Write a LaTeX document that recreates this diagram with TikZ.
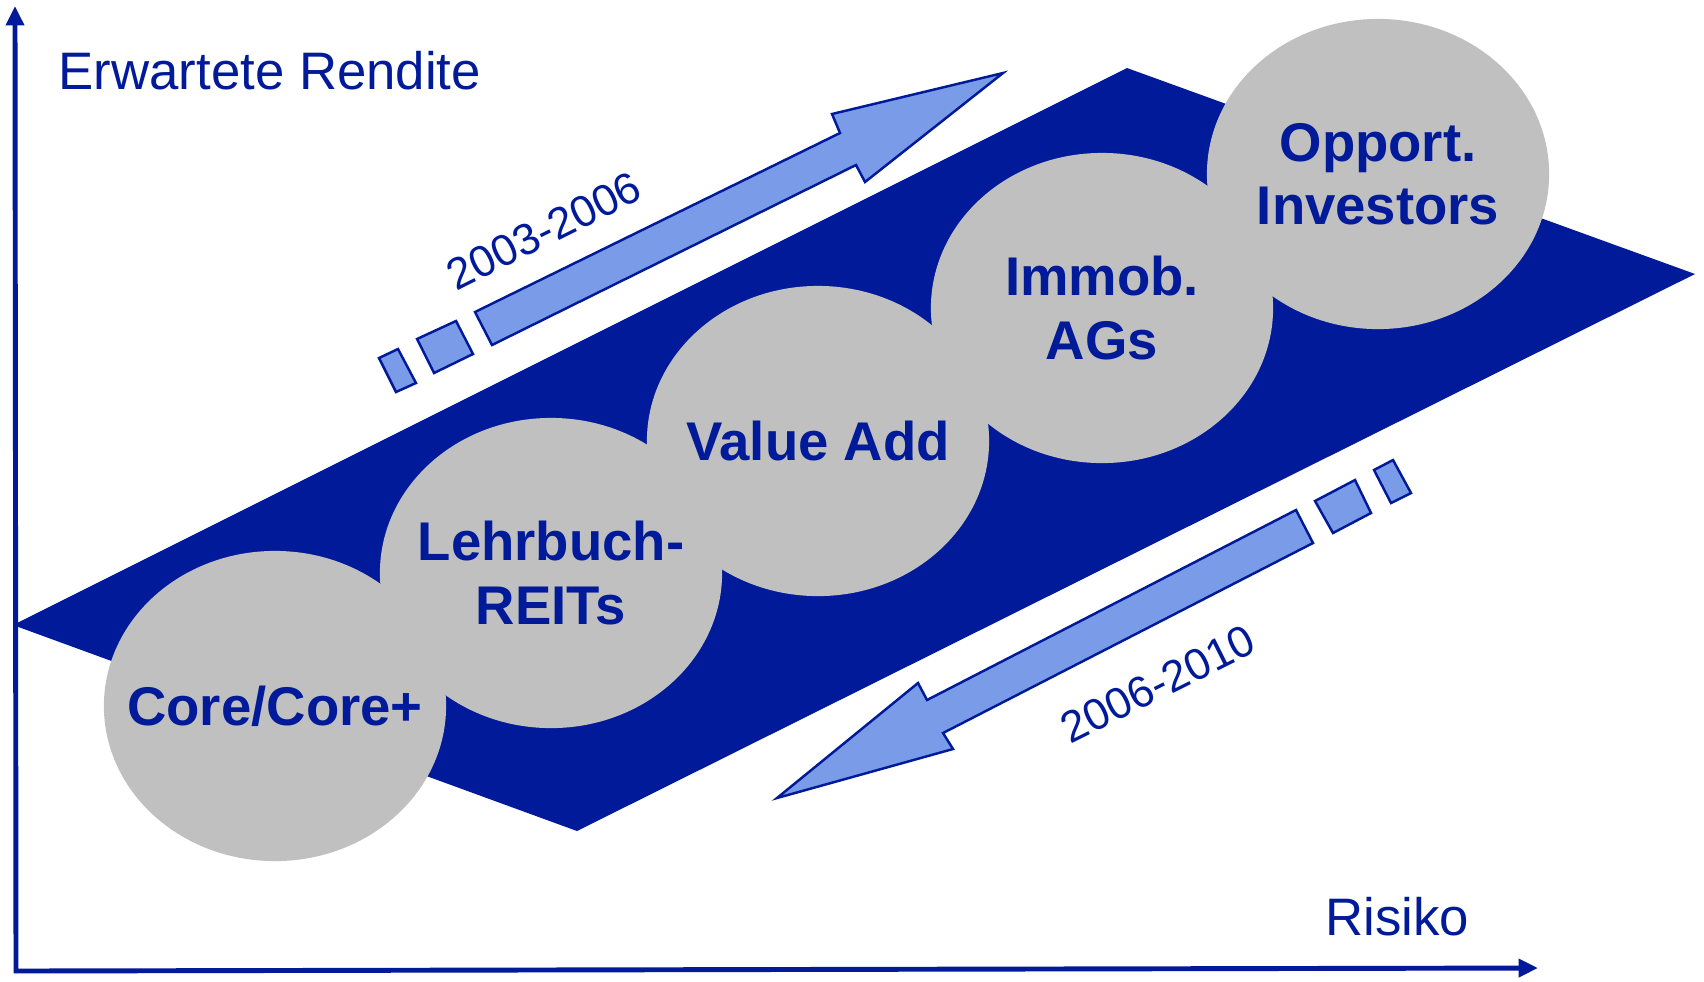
\documentclass[tikz,border=0pt]{standalone}
\usepackage{fontspec}
\setmainfont{Liberation Sans}
\usepackage{tikz}
\usetikzlibrary{calc}
\usetikzlibrary{arrows.meta}

\definecolor{planeblue}{RGB}{0,26,153}
\definecolor{trendblue}{RGB}{122,156,232}
\definecolor{bubblegray}{RGB}{192,192,192}

\tikzset{
  bubble/.style = {fill = bubblegray},
  bubbletext/.style = {inner sep = 0pt, align = center, text = planeblue, font = \fontsize{15.5}{18}\selectfont\bfseries},
  axislabel/.style = {text = planeblue, inner sep = 0pt, font = \fontsize{15}{18}\selectfont},
  yearlabel/.style = {text = planeblue, inner sep = 0pt, font = \fontsize{12.5}{15}\selectfont},
  trend/.style = {draw = planeblue, line width = 0.7pt, fill = trendblue, line join = miter}
}

\begin{document}
\begin{tikzpicture}[x = 0.01cm, y = -0.01cm]
    \useasboundingbox (0,0) rectangle (1704,981);

    % axes
    \coordinate (ytop) at (15,6);
    \coordinate (origin) at (16,971);
    \coordinate (xend) at (1538,968);
    \draw[line width = 1.4pt, planeblue, {Triangle[length=5.5pt, width=5pt]}-{Triangle[length=5.5pt, width=5pt]}] (ytop) -- (origin) -- (xend);

    \node[axislabel, anchor = base west] (rendite) at (58,89) {Erwartete Rendite};
    \node[axislabel, anchor = base west] (risiko) at (1325,935) {Risiko};

    % plane
    \fill[planeblue] (13,625) -- (1127,68) -- (1695,274) -- (577,831) -- cycle;

    % trend up
    \draw[trend] (475,312) -- (840,133) -- (832,114) -- (1003,73) -- (865,182) -- (856,165) -- (492,345) -- cycle;
    \draw[trend] (417,339) -- (456,321) -- (473,354) -- (434,373) -- cycle;
    \draw[trend] (379,358) -- (398,349) -- (416,383) -- (396,392) -- cycle;
    \node[yearlabel, rotate = 26.6] (up) at (544,231) {2003-2006};

    % trend down
    \draw[trend] (1296,510) -- (927,700) -- (918,683) -- (777,798) -- (953,749) -- (943,733) -- (1313,543) -- cycle;
    \draw[trend] (1315,501) -- (1355,480) -- (1371,513) -- (1333,533) -- cycle;
    \draw[trend] (1374,470) -- (1393,460) -- (1411,493) -- (1391,503) -- cycle;
    \node[yearlabel, rotate = 26.6] (down) at (1158,684) {2006-2010};

    \foreach \pos/\t [count=\k] in {{275,706}/{Core/Core+},
    {551,573}/{Lehrbuch-\\REITs},
    {818,441}/{Value Add},
    {1102,308}/{Immob.\\AGs},
    {1378,174}/{Opport.\\Investors}}
  {
   \fill[bubble] (\pos) ellipse [x radius = 1.71cm, y radius = 1.55cm];
   \node[bubbletext] (bub\k) at (\pos) {\t};
  }
\end{tikzpicture}
\end{document}
